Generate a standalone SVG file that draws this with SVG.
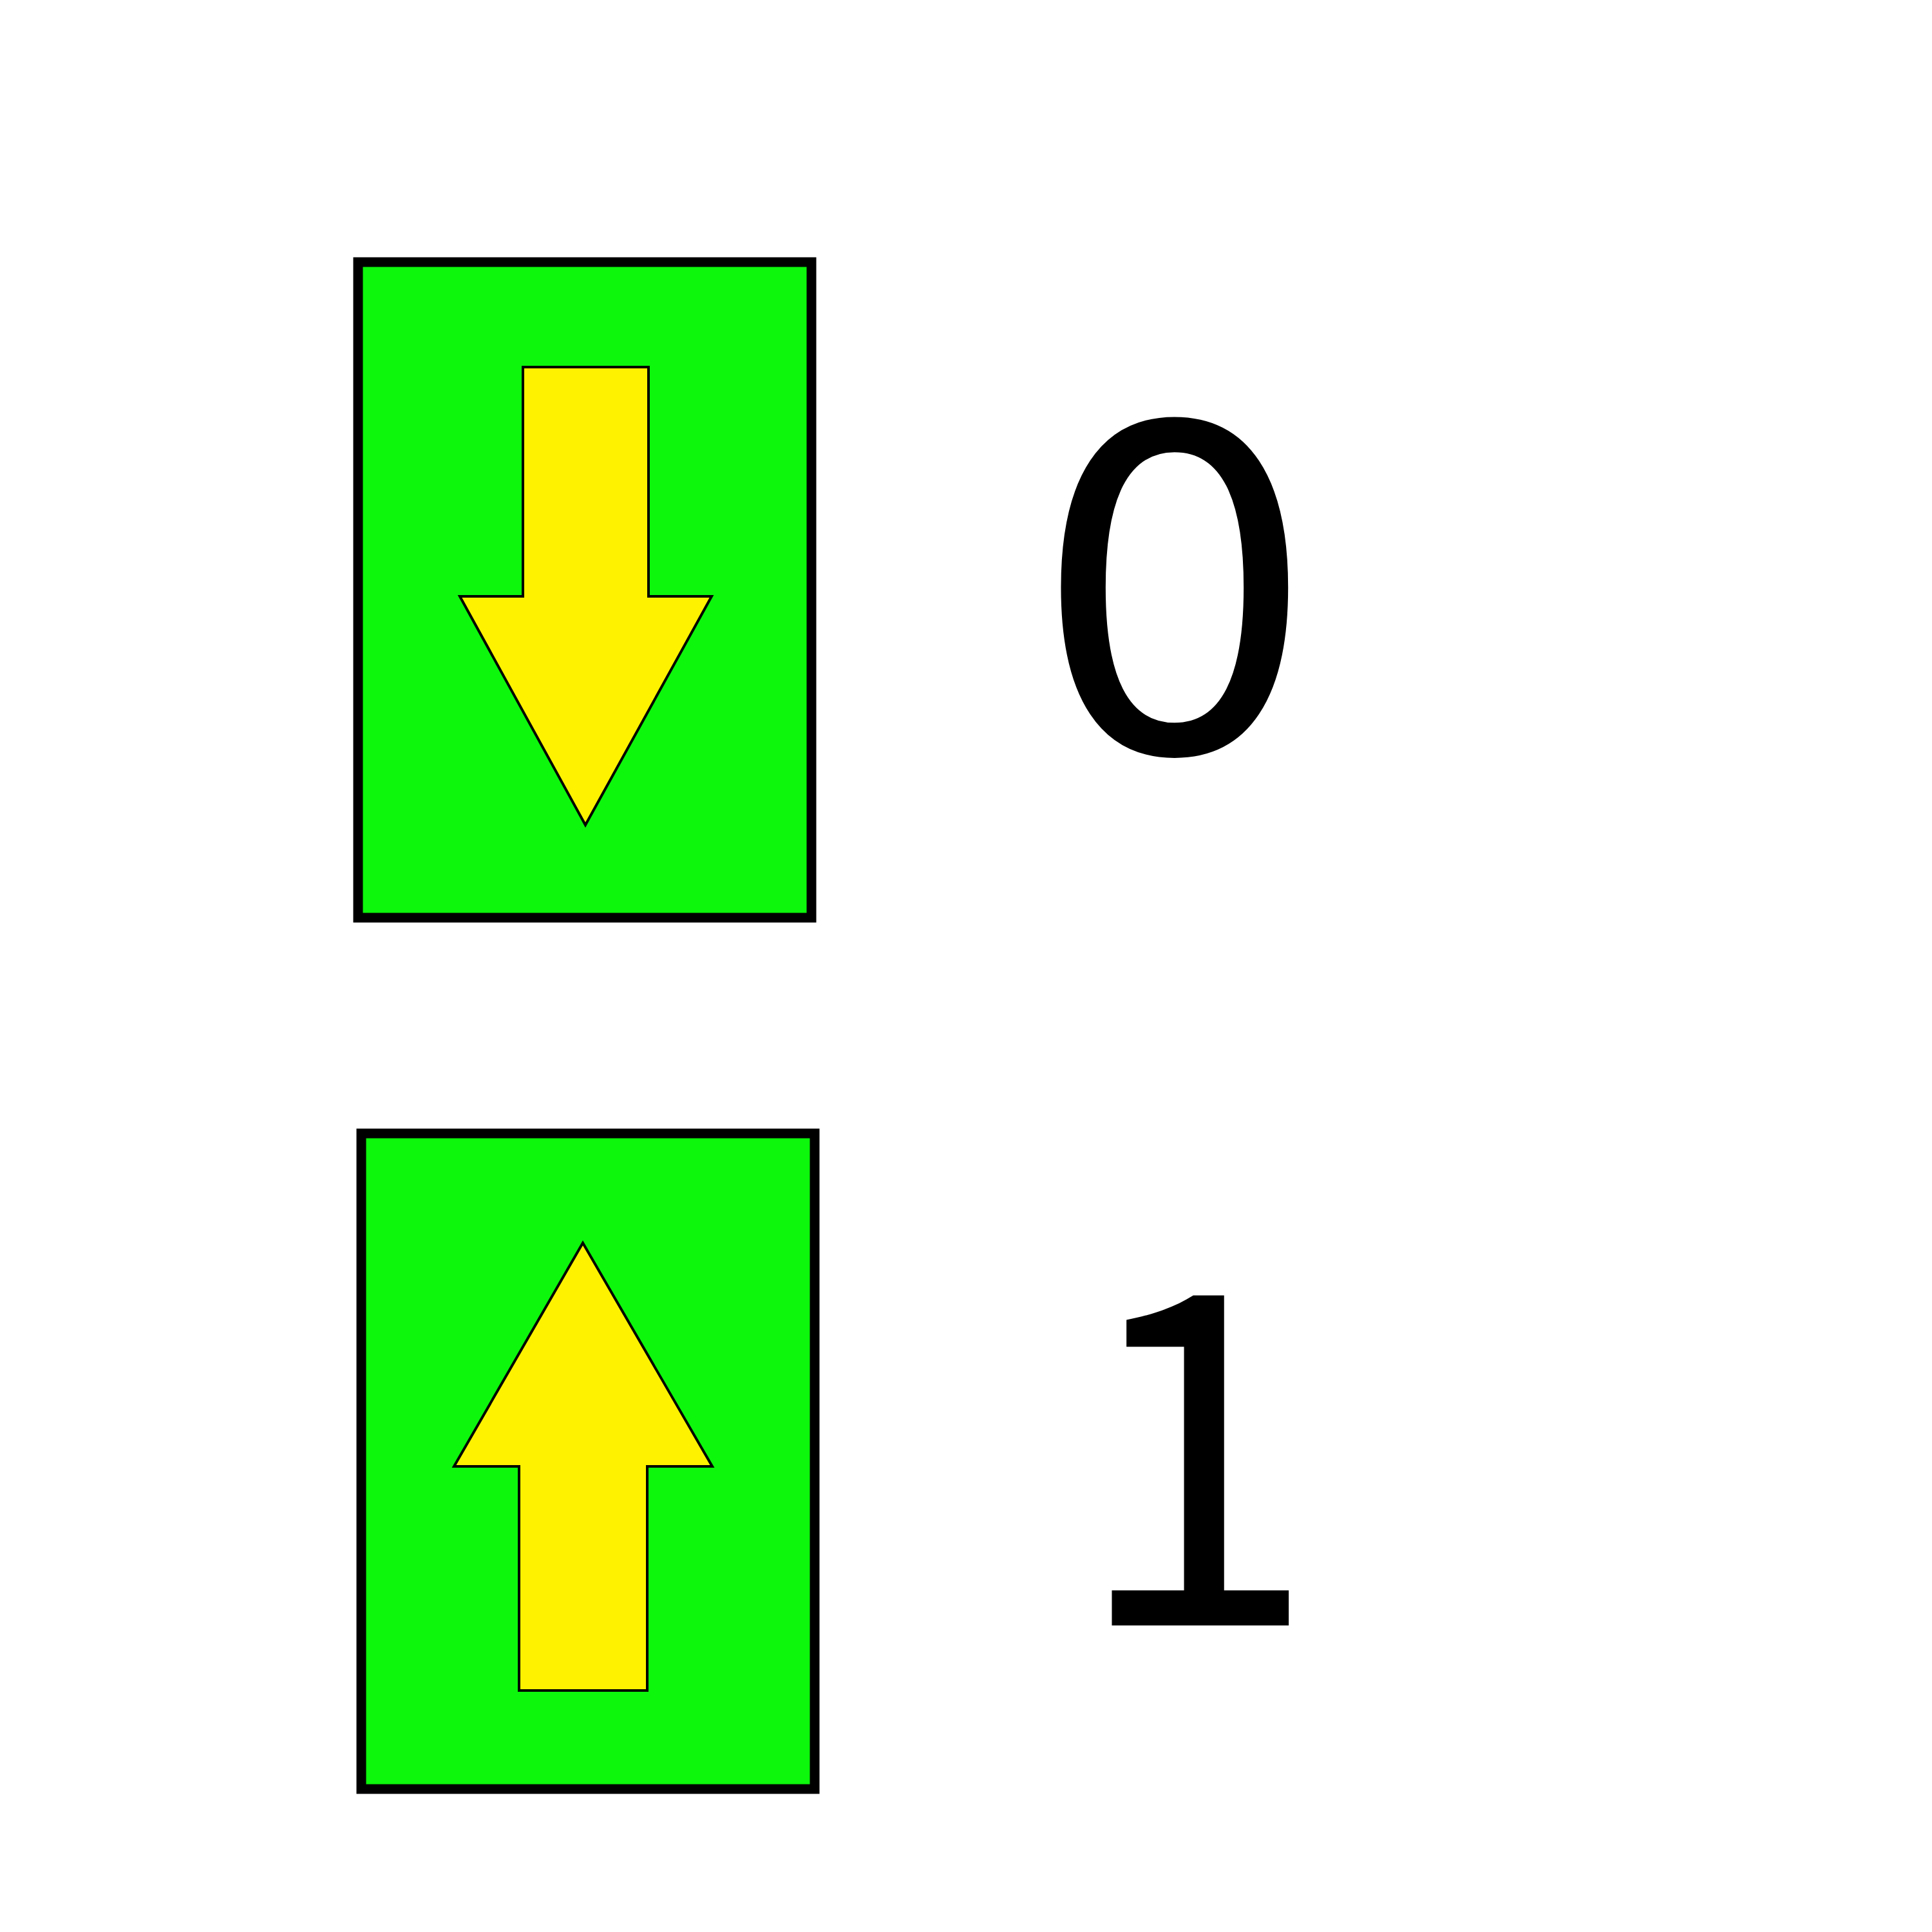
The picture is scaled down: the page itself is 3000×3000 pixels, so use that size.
<svg xmlns="http://www.w3.org/2000/svg" width="3000" height="3000" viewBox="0 0 3000 3000">
<style>
.box{fill:#0cf70c;stroke:#000;stroke-width:15}
.arrow{fill:#fff200;stroke:#000;stroke-width:4;stroke-linejoin:miter}
.lbl{fill:#000;text-anchor:middle}
.l0{font-family:"DejaVu Sans",sans-serif;font-size:700px}
.l1{font-family:"Noto Sans CJK SC","DejaVu Sans",sans-serif;font-size:719px}
</style>
<rect width="3000" height="3000" fill="#fff"/>
<g id="node-down">
<rect class="box" x="556" y="407" width="704" height="1018"/>
<polygon class="arrow" points="812,570 1007,570 1007,926 1105,926 909,1281 714,926 812,926"/>
</g>
<g id="label-0"><text class="lbl l0" x="1824" y="1167">0</text></g>
<g id="node-up">
<rect class="box" x="561" y="1760" width="704" height="1018"/>
<polygon class="arrow" points="905,1930 1106,2277 1005,2277 1005,2625 806,2625 806,2277 705,2277"/>
</g>
<g id="label-1"><text class="lbl l1" transform="translate(1856 2524) scale(0.95 1)" x="0" y="0">1</text></g>
<g id="connectors"/>
</svg>
